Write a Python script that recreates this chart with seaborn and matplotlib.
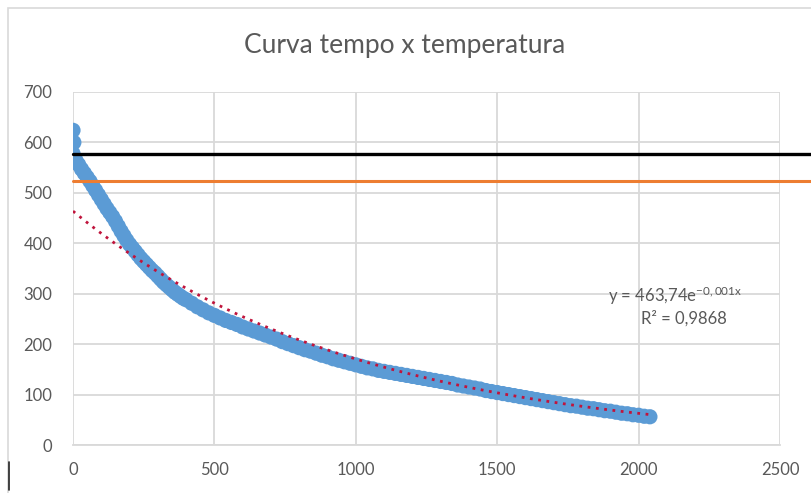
import numpy as np
import pandas as pd
import matplotlib.pyplot as plt
from matplotlib.lines import Line2D
from matplotlib.patches import Rectangle
import seaborn as sns

# leituras iniciais (pico do termopar)
tempo_inicio = [0, 3]
temp_inicio = [624, 600]

# curva de resfriamento: a cada 10 s ate 390 s, depois a cada 20 s
tempo = list(range(0, 400, 10)) + list(range(400, 2041, 20))
temperatura = [
    578, 565, 556, 547, 539, 531, 523, 514, 505, 496,
    487, 478, 469, 461, 453, 444, 434, 424, 415, 406,
    398, 391, 384, 377, 370, 364, 358, 352, 346, 341,
    335, 329, 323, 318, 313, 308, 303, 299, 295, 291,
    288, 281, 274, 268, 262, 257, 252, 247, 243, 239,
    234, 230, 226, 222, 218, 214, 210, 205, 201, 197,
    193, 189, 186, 182, 178, 175, 171, 168, 165, 162,
    159, 156, 153, 151, 148, 146, 144, 142, 140, 138,
    136, 134, 132, 130, 128, 126, 124, 122, 119, 117,
    115, 113, 111, 108, 106, 104, 102, 100, 98, 96,
    94, 92, 90, 88, 86, 84, 82, 80, 78, 77,
    75, 73, 72, 70, 68, 67, 65, 63, 62, 60,
    59, 57, 56,
]

# linhas de referencia
ref_x = [0, 2700]
ref_preta = 578
ref_laranja = 524

# linha de tendencia exponencial (coeficientes do grafico)
coef_a = 463.74
coef_b = -0.001
eq_texto = "y = 463,74e$^{-0,001x}$"
r2_texto = "R² = 0,9868"

df = pd.DataFrame({"tempo": tempo_inicio + tempo, "temperatura": temp_inicio + temperatura})

sns.set_theme(style="white")
plt.rcParams["font.family"] = ["Lato", "DejaVu Sans"]
plt.rcParams["mathtext.default"] = "regular"
cinza = "#595959"

fig = plt.figure(figsize=(8.12, 4.93), dpi=100)
ax = fig.add_axes([73 / 812, 48 / 493, 707 / 812, 353 / 493])

# moldura da area do grafico
fig.patches.append(Rectangle((8 / 812, -0.1), 1.0, 485 / 493 + 0.1,
                             transform=fig.transFigure, fill=False,
                             edgecolor="#d9d9d9", linewidth=1.2))
fig.lines.append(Line2D([9 / 812, 9 / 812], [3 / 493, 31 / 493],
                        transform=fig.transFigure, color="#222222", linewidth=1.2))

sns.scatterplot(data=df, x="tempo", y="temperatura", ax=ax, color="#5b9bd5",
                s=120, edgecolor="none", zorder=2, legend=False)

xt = np.array(tempo)
ax.plot(xt, coef_a * np.exp(coef_b * xt), linestyle=(0, (1, 2)), color="#c0143c",
        linewidth=2.0, zorder=3)

ax.plot(ref_x, [ref_preta, ref_preta], color="black", linewidth=2.4, zorder=4, clip_on=False)
ax.plot(ref_x, [ref_laranja, ref_laranja], color="#ed7d31", linewidth=2.2, zorder=4, clip_on=False)

ax.set_xlim(0, 2500)
ax.set_ylim(0, 700)
ax.set_xticks(range(0, 2501, 500))
ax.set_yticks(range(0, 701, 100))
ax.grid(True, color="#d9d9d9", linewidth=1.3)
ax.set_axisbelow(True)
for lado in ["top", "right", "left"]:
    ax.spines[lado].set_visible(False)
ax.spines["bottom"].set_color("#d9d9d9")
ax.spines["bottom"].set_linewidth(1.3)
ax.tick_params(axis="x", colors=cinza, labelsize=12, pad=12, length=0)
ax.tick_params(axis="y", colors=cinza, labelsize=12, pad=15, length=0)
ax.set_xlabel("")
ax.set_ylabel("")

fig.text(405 / 812, 1 - 45 / 493, "Curva tempo x temperatura", ha="center", va="center",
         fontsize=19, color=cinza)
ax.text(2130, 296, eq_texto, ha="center", va="center", fontsize=12, color=cinza)
ax.text(2160, 251, r2_texto, ha="center", va="center", fontsize=12, color=cinza)

fig.savefig("out.png", dpi=100)
